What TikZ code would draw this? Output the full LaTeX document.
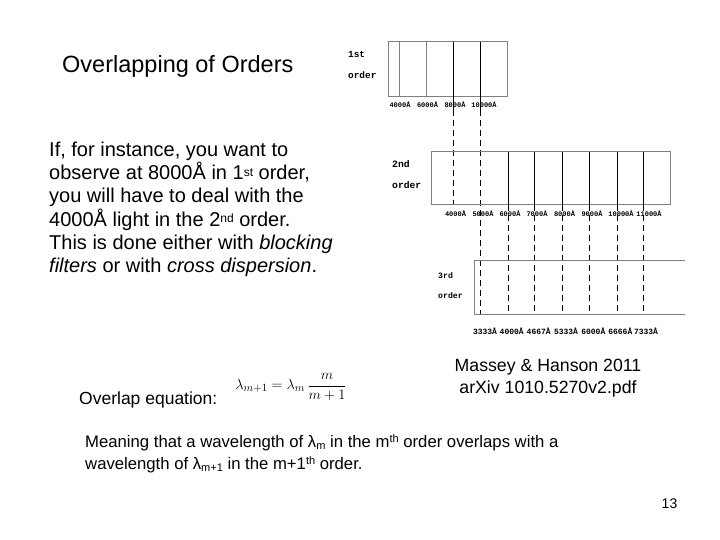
\documentclass[tikz,border=0pt]{standalone}
\usepackage[no-math]{fontspec}
\setmainfont{Liberation Sans}
\newfontfamily\monof{Liberation Mono}
\begin{document}
\begin{tikzpicture}[x=1pt,y=-1pt,
  txt/.style={inner sep=0pt, anchor=base west},
  body/.style={txt, font=\fontsize{20}{23}\selectfont},
  mean/.style={txt, font=\fontsize{16.7}{20}\selectfont},
  boxline/.style={draw=black!50, line width=1pt},
  greyl/.style={draw=black!50, line width=1pt},
  solidl/.style={draw=black, line width=0.9pt},
  dashl/.style={draw=black, line width=0.9pt, dash pattern=on 6pt off 4pt},
  lblA/.style={inner sep=0pt, anchor=base, font=\monof\bfseries\fontsize{7}{8}\selectfont},
  lblB/.style={inner sep=0pt, anchor=base, font=\monof\bfseries\fontsize{8}{9}\selectfont},
  ord/.style={inner sep=0pt, anchor=base west, font=\monof\bfseries\fontsize{#1}{12}\selectfont}
]
\useasboundingbox (0,0) rectangle (720,540);

% Title and body
\node[txt, font=\fontsize{23.5}{27}\selectfont] (title) at (62,73) {Overlapping of Orders};
\node[body] (b1) at (49,157) {If, for instance, you want to};
\node[body] (b2) at (49,180) {observe at 8000Å in 1{\fontsize{12}{12}\selectfont\raisebox{0.55ex}{st}} order,};
\node[body] (b3) at (49,203) {you will have to deal with the};
\node[body] (b4) at (49,226) {4000Å light in the 2{\fontsize{12}{12}\selectfont\raisebox{0.55ex}{nd}} order.};
\node[body] (b5) at (49,249) {This is done either with \textit{blocking}};
\node[body] (b6) at (49,272) {\textit{filters} or with \textit{cross dispersion}.};

% 1st order
\node[ord=9.4] (o1a) at (348,58) {1st};
\node[ord=9.4] (o1b) at (348,79) {order};
\draw[boxline] (388,42) rectangle (507,97);
\draw[greyl] (399,42) -- (399,97);
\draw[greyl] (426,42) -- (426,97);
\draw[solidl] (453,42) -- (453,110);
\draw[solidl] (480,42) -- (480,110);
\node[lblA] (l11) at (400,108) {4000Å};
\node[lblA] (l12) at (427.5,108) {6000Å};
\node[lblA] (l13) at (455,108) {8000Å};
\node[lblA] (l14) at (484,108) {10000Å};
\draw[dashl] (453,110) -- (453,205);
\draw[dashl] (480,110) -- (480,314);

% 2nd order
\node[ord=9.7] (o2a) at (392,168) {2nd};
\node[ord=9.7] (o2b) at (392,189) {order};
\draw[boxline] (431,152) rectangle (670,205);
\foreach \xx in {508,534,562,589,617,643} {
  \draw[solidl] (\xx,152) -- (\xx,205);
  \draw[dashl] (\xx,205) -- (\xx,314);
}
\node[lblA] (l21) at (455.5,216) {4000Å};
\node[lblA] (l22) at (483,216) {5000Å};
\node[lblA] (l23) at (510,216) {6000Å};
\node[lblA] (l24) at (537,216) {7000Å};
\node[lblA] (l25) at (564.5,216) {8000Å};
\node[lblA] (l26) at (592,216) {9000Å};
\node[lblA] (l27) at (621,216) {10000Å};
\node[lblA] (l28) at (649,216) {11000Å};

% 3rd order
\node[ord=8.2] (o3a) at (438,278) {3rd};
\node[ord=8.2] (o3b) at (438,298) {order};
\draw[boxline] (685,260) -- (474,260) -- (474,314) -- (685,314);
\node[lblB] (l31) at (485,334) {3333Å};
\node[lblB] (l32) at (511.7,334) {4000Å};
\node[lblB] (l33) at (538.7,334) {4667Å};
\node[lblB] (l34) at (566,334) {5333Å};
\node[lblB] (l35) at (593.3,334) {6000Å};
\node[lblB] (l36) at (620.3,334) {6666Å};
\node[lblB] (l37) at (646,334) {7333Å};

% Equation
\node[txt, font=\fontsize{17.5}{20}\selectfont] (oe) at (79,404) {Overlap equation:};
\node[inner sep=0pt, font=\fontsize{15.6}{18}\selectfont] (eq) at (291,387)
  {$\displaystyle \lambda_{m+1} = \lambda_m\,\frac{m}{m+1}$};

% Reference
\node[inner sep=0pt, anchor=base, font=\fontsize{17.7}{21}\selectfont] (r1) at (548,371) {Massey \& Hanson 2011};
\node[inner sep=0pt, anchor=base, font=\fontsize{17.7}{21}\selectfont] (r2) at (548,393) {arXiv 1010.5270v2.pdf};

% Meaning
\node[mean] (m1) at (85,447) {Meaning that a wavelength of λ{\fontsize{11}{11}\selectfont\raisebox{-0.5ex}{m}} in the m{\fontsize{11}{11}\selectfont\raisebox{0.7ex}{th}} order overlaps with a};
\node[mean] (m2) at (85,469) {wavelength of λ{\fontsize{11}{11}\selectfont\raisebox{-0.5ex}{m+1}} in the m+1{\fontsize{11}{11}\selectfont\raisebox{0.7ex}{th}} order.};

% Page number
\node[inner sep=0pt, anchor=base, font=\fontsize{14}{16}\selectfont] (pg) at (669.5,508) {13};
\end{tikzpicture}
\end{document}
